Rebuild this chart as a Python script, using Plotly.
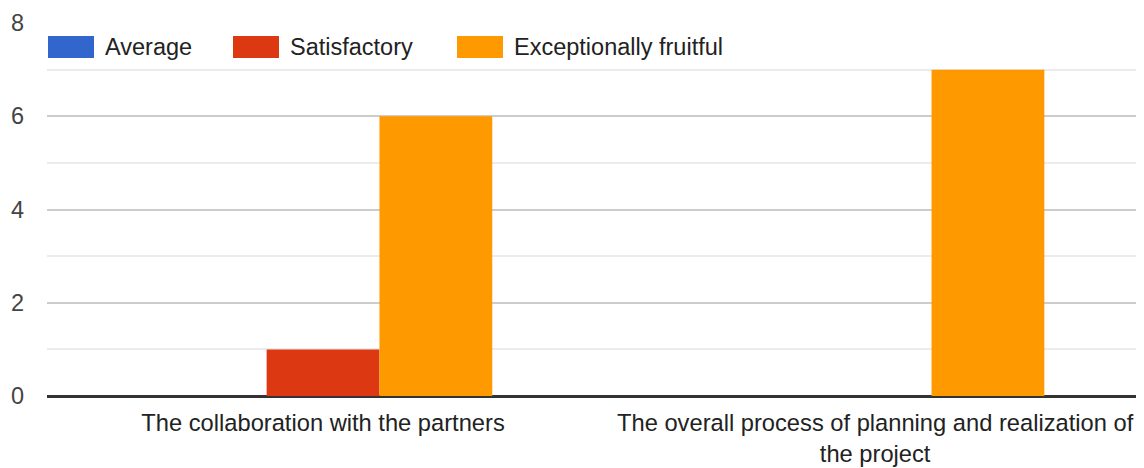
import plotly.graph_objects as go

categories = ["The collaboration with the partners",
              "The overall process of planning and realization of<br>the project"]
series_names = ["Average", "Satisfactory", "Exceptionally fruitful"]
average = [0, 0]
satisfactory = [1, 0]
exceptional = [6, 7]
colors = ["#3366cc", "#dc3912", "#ff9900"]
y_ticks = [0, 2, 4, 6, 8]

FONT = "Arial, 'Liberation Sans', sans-serif"
FS = 23.5
FSX = 23.7

# page body has an 8px default margin; plot area target: x 47..1144, y 23..396
PL, PT, PW, PH = 39, 15, 1097, 373

fig = go.Figure()
for name, vals, col in zip(series_names, [average, satisfactory, exceptional], colors):
    fig.add_trace(go.Bar(x=categories, y=vals, name=name, marker_color=col,
                         marker_line_width=0, showlegend=False))

# custom legend (wide swatches as in reference)
legend_x = [48, 233, 457]
for name, col, lx in zip(series_names, colors, legend_x):
    fig.add_shape(type="rect", xref="paper", yref="paper",
                  x0=(lx - 47) / PW, x1=(lx + 46 - 47) / PW,
                  y0=(396 - 58) / PH, y1=(396 - 36) / PH,
                  fillcolor=col, line_width=0, layer="above")
    fig.add_annotation(text=name, xref="paper", yref="paper",
                       x=(lx + 55 - 47) / PW, y=(396 - 47) / PH,
                       xanchor="left", yanchor="middle", showarrow=False,
                       font=dict(family=FONT, size=FS, color="#222222"))

fig.update_layout(
    width=1136, height=460,
    margin=dict(l=PL, r=0, t=PT, b=72),
    paper_bgcolor="white", plot_bgcolor="white",
    barmode="group", bargap=0.387, bargroupgap=0,
    font=dict(family=FONT, size=FS, color="#222222"),
    xaxis=dict(range=[-0.5, 1.487], showgrid=False, zeroline=False,
               showline=False, ticks="", automargin=False, ticklabelstandoff=10,
               tickfont=dict(family=FONT, size=FSX, color="#222222")),
    yaxis=dict(range=[0, 8], tickvals=y_ticks, showgrid=True,
               gridcolor="#cccccc", gridwidth=2,
               zeroline=True, zerolinecolor="#333333", zerolinewidth=3,
               minor=dict(dtick=1, showgrid=True, gridcolor="#ebebeb", gridwidth=2),
               ticks="", automargin=False, ticklabelstandoff=22,
               tickfont=dict(family=FONT, size=FS, color="#444444")),
)

fig.write_html("out.html")
